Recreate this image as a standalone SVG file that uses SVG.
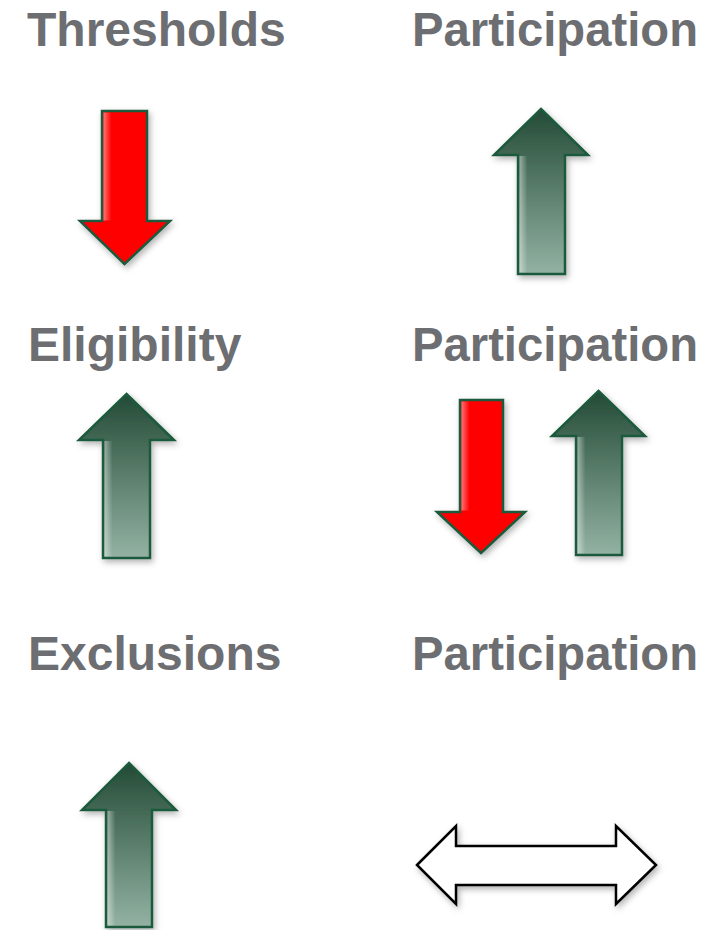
<svg xmlns="http://www.w3.org/2000/svg" width="728" height="930" viewBox="0 0 728 930">
  <defs>
    <linearGradient id="greenFill" x1="0" y1="0" x2="0" y2="1">
      <stop offset="0" stop-color="#234a36"/>
      <stop offset="0.35" stop-color="#4a6f5c"/>
      <stop offset="1" stop-color="#93b2a3"/>
    </linearGradient>
    <linearGradient id="edgeLight" x1="0" y1="0" x2="1" y2="0">
      <stop offset="0" stop-color="#ffffff" stop-opacity="0.45"/>
      <stop offset="1" stop-color="#ffffff" stop-opacity="0"/>
    </linearGradient>
    <filter id="shadow" x="-30%" y="-20%" width="160%" height="140%">
      <feDropShadow dx="2" dy="3" stdDeviation="3" flood-color="#000" flood-opacity="0.3"/>
    </filter>
    <style>
      .label { font-family: "Liberation Sans", Arial, sans-serif; font-weight: bold; font-size: 48px; fill: #6d6e71; }
      .up { fill: url(#greenFill); stroke: #1d5a3c; stroke-width: 2.5; stroke-linejoin: miter; filter: url(#shadow); }
      .down { fill: #ff0000; stroke: #1d5a3c; stroke-width: 2.5; stroke-linejoin: miter; filter: url(#shadow); }
      .both { fill: #ffffff; stroke: #000000; stroke-width: 2.5; stroke-linejoin: miter; filter: url(#shadow); }
      .shine { fill: url(#edgeLight); }
    </style>
  </defs>

  <!-- column labels -->
  <g id="label-thresholds"><text class="label" x="27" y="46">Thresholds</text></g>
  <g id="label-participation-1"><text class="label" x="412" y="46" textLength="286" lengthAdjust="spacingAndGlyphs">Participation</text></g>
  <g id="label-eligibility"><text class="label" x="28" y="361">Eligibility</text></g>
  <g id="label-participation-2"><text class="label" x="412" y="361" textLength="286" lengthAdjust="spacingAndGlyphs">Participation</text></g>
  <g id="label-exclusions"><text class="label" x="28" y="670">Exclusions</text></g>
  <g id="label-participation-3"><text class="label" x="412" y="670" textLength="286" lengthAdjust="spacingAndGlyphs">Participation</text></g>

  <!-- arrows -->
  <g id="arrow-thresholds-down">
    <path class="down" d="M102,111 H147 V221 H170 L124.5,264 L80,221 H102 Z"/>
    <rect class="shine" x="103.5" y="112.5" width="8" height="108"/>
  </g>

  <g id="arrow-participation-1-up">
    <path class="up" d="M541,109 L588,155 H565 V274 H518 V155 H494 Z"/>
    <rect class="shine" x="519.5" y="156" width="8" height="116.5"/>
  </g>

  <g id="arrow-eligibility-up">
    <path class="up" d="M126.5,394 L174,440 H150 V558 H103 V440 H79 Z"/>
    <rect class="shine" x="104.5" y="441" width="8" height="115.5"/>
  </g>

  <g id="arrow-participation-2-down">
    <path class="down" d="M460,400 H503 V512 H525 L481,553 L437,512 H460 Z"/>
    <rect class="shine" x="461.5" y="401.5" width="8" height="109"/>
  </g>

  <g id="arrow-participation-2-up">
    <path class="up" d="M598.5,391 L645,436 H622 V555 H576 V436 H552 Z"/>
    <rect class="shine" x="577.5" y="437" width="8" height="116.5"/>
  </g>

  <g id="arrow-exclusions-up">
    <path class="up" d="M129,763 L176,810 H152 V927 H106 V810 H82 Z"/>
    <rect class="shine" x="107.5" y="811" width="8" height="114.5"/>
  </g>

  <g id="arrow-participation-3-both">
    <path class="both" d="M417,865 L456,826 V846 H616 V826 L656,865 L616,904 V885 H456 V904 Z"/>
  </g>
</svg>
